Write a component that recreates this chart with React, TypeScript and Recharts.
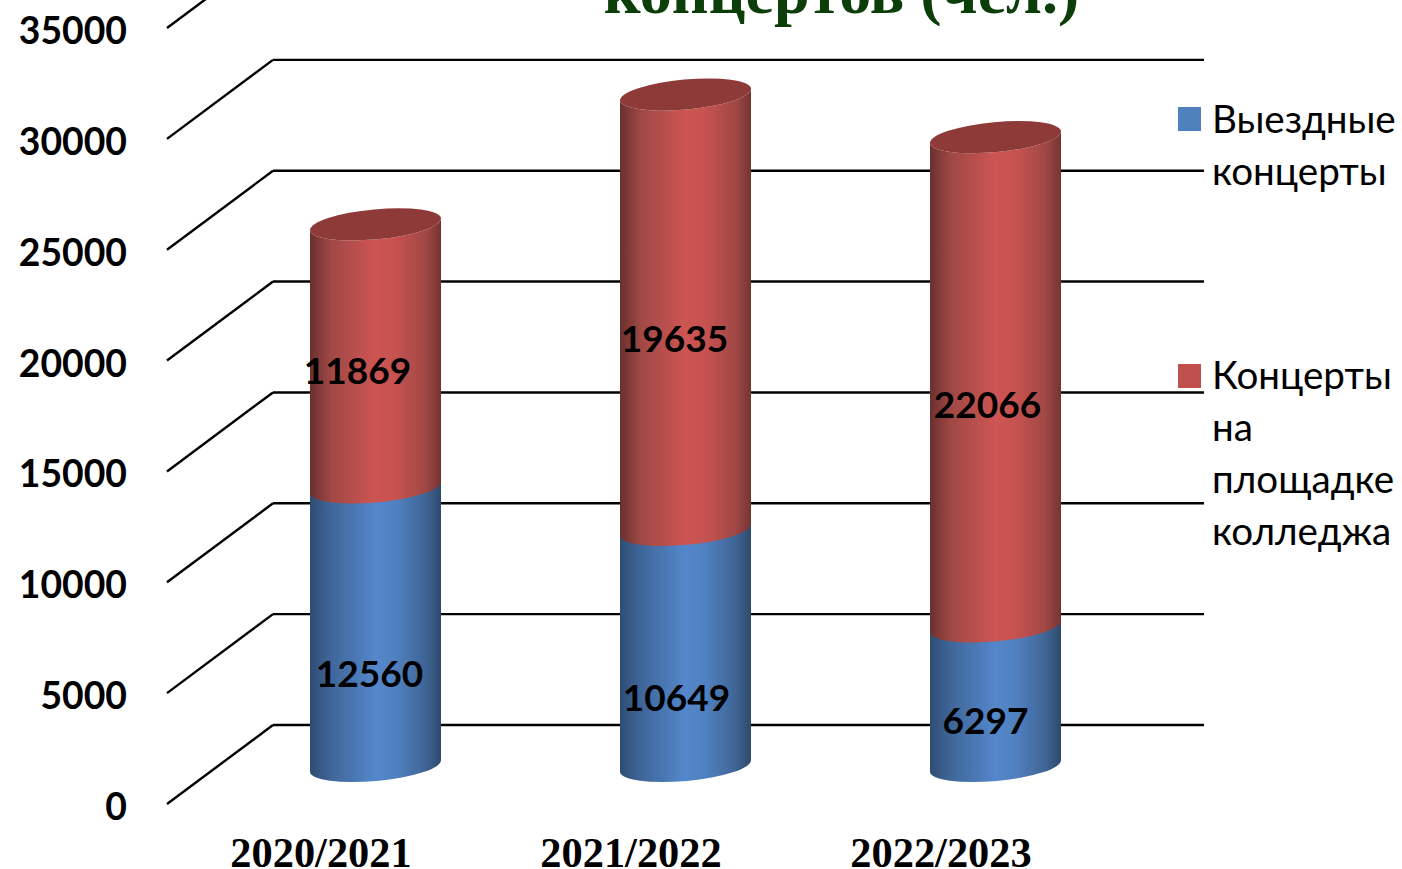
import { BarChart, Bar, XAxis, YAxis, Legend, LabelList, CartesianGrid } from 'recharts';

const seasons = ['2020/2021', '2021/2022', '2022/2023'];
const touring = [12560, 10649, 6297];
const onSite = [11869, 19635, 22066];
const yTicks = [0, 5000, 10000, 15000, 20000, 25000, 30000, 35000];

const legendLines: Record<string, string[]> = {
  touring: ['Выездные', 'концерты'],
  onSite: ['Концерты', 'на', 'площадке', 'колледжа'],
};

const data = seasons.map((season, i) => ({ season, touring: touring[i], onSite: onSite[i] }));

// the chart is pulled up so the title and top gridline get cut off by the page edge
const TOP_CUT = 60;
const TILT = 6;
const RY = 15;

// hand nudges for the value labels, they don't sit in the middle of the segments
const touringNudge = [[-6, 46], [-9, 49], [-10, 23]];
const onSiteNudge = [[-18, 13.5], [-11, 25], [-8, 22]];

// grid line = side wall diagonal + back wall line, both hang off the axis tick y
function WallLine({ y1 }: any) {
  return (
    <g>
      <line x1={167} y1={y1 + 38} x2={273} y2={y1 - 41} stroke="#000" strokeWidth={2.4} />
      <line x1={273} y1={y1 - 41} x2={1204} y2={y1 - 41} stroke="#000" strokeWidth={2.4} />
    </g>
  );
}

function ValueTick({ y, payload }: any) {
  return (
    <text x={127} y={y + 39.5} textAnchor="end" dominantBaseline="central"
      style={{ fontFamily: 'Lato', fontWeight: 700, fontSize: 37.3 }} fill="#000">
      {payload.value}
    </text>
  );
}

function SeasonTick({ x, y, payload }: any) {
  return (
    <text x={x - 54} y={y + 78} textAnchor="middle" dominantBaseline="central"
      style={{ fontFamily: 'Liberation Serif', fontWeight: 700, fontSize: 42.4 }} fill="#000">
      {payload.value}
    </text>
  );
}

function Cylinder({ x, y, width, height, gradient, capped }: any) {
  const rx = Math.sqrt(width * width + 4 * TILT * TILT) / 2;
  const rot = (-Math.atan2(2 * TILT, width) * 180) / Math.PI;
  const bottom = y + height;
  const arc = (toX: number, toY: number, sweep: number) => `A ${rx} ${RY} ${rot} 0 ${sweep} ${toX} ${toY}`;
  const body = [
    `M ${x} ${y + TILT}`,
    `L ${x} ${bottom + TILT}`,
    arc(x + width, bottom - TILT, 0),
    `L ${x + width} ${y - TILT}`,
    capped ? arc(x, y + TILT, 1) : 'Z',
  ].join(' ');
  return (
    <g>
      <path d={body} fill={`url(#${gradient})`} />
      {capped && (
        <ellipse cx={x + width / 2} cy={y} rx={rx} ry={RY} fill="#8e3a38"
          transform={`rotate(${rot} ${x + width / 2} ${y})`} />
      )}
    </g>
  );
}

const valueLabel = (nudge: number[][]) => (props: any) => {
  const { x, y, width, height, value, index } = props;
  return (
    <text x={x + width / 2 + nudge[index][0]} y={y + height / 2 + nudge[index][1]}
      textAnchor="middle" dominantBaseline="central"
      style={{ fontFamily: 'Lato', fontWeight: 700, fontSize: 37 }} fill="#000">
      {value}
    </text>
  );
};

function RussianLegend({ payload }: any) {
  const tops: Record<string, number> = { touring: 91.5, onSite: 348 };
  return (
    <div>
      {(payload || []).map((item: any) => (
        <div key={item.dataKey} style={{ position: 'absolute', left: 0, top: tops[item.dataKey] + TOP_CUT }}>
          <div style={{ position: 'absolute', left: 0, top: 15.5, width: 23, height: 24, background: item.color }} />
          <div style={{ marginLeft: 34, fontFamily: 'Lato', fontSize: 38.6, lineHeight: '52px', color: '#000', whiteSpace: 'nowrap' }}>
            {legendLines[item.dataKey].map((line) => (
              <div key={line}>{line}</div>
            ))}
          </div>
        </div>
      ))}
    </div>
  );
}

export default function App() {
  return (
    <div style={{ position: 'absolute', left: 0, top: -TOP_CUT, width: 1402, height: 929, overflow: 'hidden' }}>
      <BarChart width={1402} height={929} data={data} barSize={131}
        margin={{ top: 50, right: 252, bottom: 0, left: 0 }}>
        <defs>
          <linearGradient id="blueBody" x1="0" y1="0" x2="1" y2="0">
            <stop offset="0%" stopColor="#2f4d73" />
            <stop offset="16%" stopColor="#3f6699" />
            <stop offset="50%" stopColor="#5487cb" />
            <stop offset="66%" stopColor="#5080bf" />
            <stop offset="88%" stopColor="#3f6596" />
            <stop offset="100%" stopColor="#2e4a6c" />
          </linearGradient>
          <linearGradient id="redBody" x1="0" y1="0" x2="1" y2="0">
            <stop offset="0%" stopColor="#6a302e" />
            <stop offset="16%" stopColor="#a04845" />
            <stop offset="50%" stopColor="#cd5553" />
            <stop offset="66%" stopColor="#c65250" />
            <stop offset="88%" stopColor="#a04845" />
            <stop offset="100%" stopColor="#763432" />
          </linearGradient>
        </defs>
        <text x={841.5} y={TOP_CUT + 13} textAnchor="middle"
          style={{ fontFamily: 'Liberation Serif', fontWeight: 700, fontSize: 64 }} fill="#0b3e08">
          концертов (чел.)
        </text>
        <CartesianGrid vertical={false} horizontal={(p: any) => <WallLine key={p.key} {...p} />} />
        <YAxis width={220} domain={[0, 35000]} ticks={yTicks} axisLine={false} tickLine={false}
          tick={<ValueTick />} interval={0} />
        <XAxis dataKey="season" height={103} axisLine={false} tickLine={false} tick={<SeasonTick />} interval={0} />
        <Legend layout="vertical" content={<RussianLegend />} wrapperStyle={{ position: 'absolute', left: 1178, top: 0, width: 224, height: 0 }} />
        <Bar dataKey="touring" stackId="a" fill="#4f81bd" isAnimationActive={false}
          shape={(p: any) => <Cylinder {...p} gradient="blueBody" />}>
          <LabelList dataKey="touring" content={valueLabel(touringNudge)} />
        </Bar>
        <Bar dataKey="onSite" stackId="a" fill="#c0504d" isAnimationActive={false}
          shape={(p: any) => <Cylinder {...p} gradient="redBody" capped />}>
          <LabelList dataKey="onSite" content={valueLabel(onSiteNudge)} />
        </Bar>
      </BarChart>
    </div>
  );
}
